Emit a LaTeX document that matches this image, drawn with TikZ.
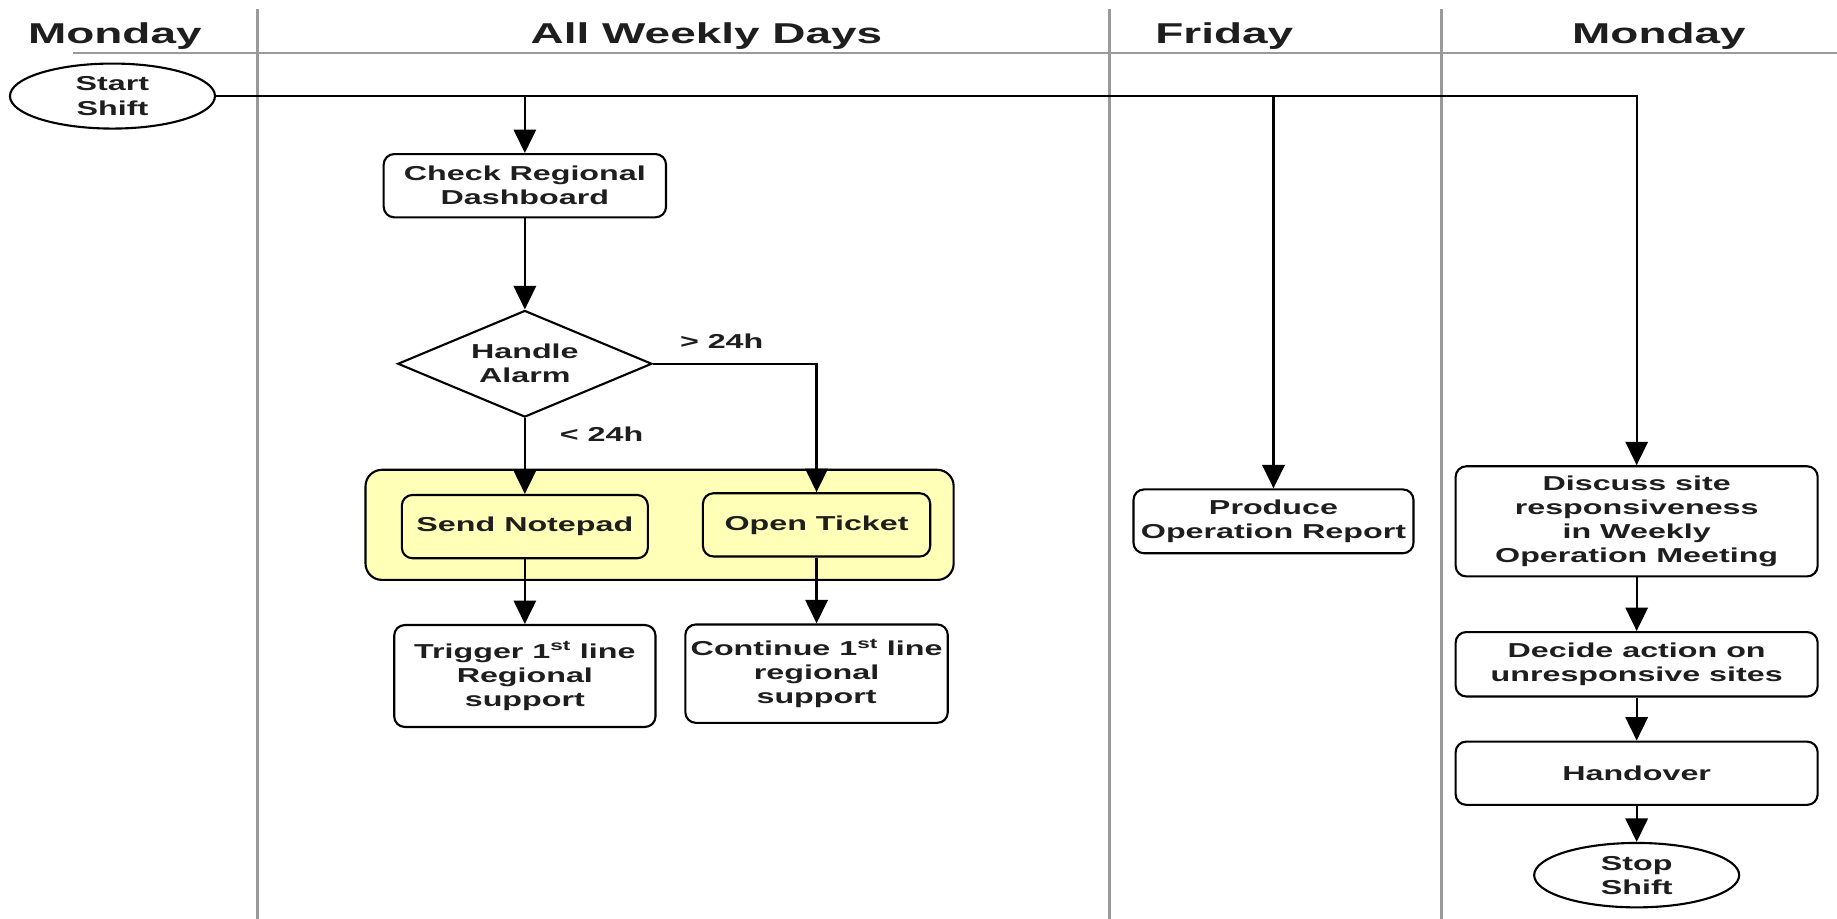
\documentclass[tikz,border=0pt]{standalone}
\usepackage{fontspec}
\setmainfont{Liberation Sans}[FakeStretch=1.6]
\usetikzlibrary{shapes.geometric,arrows.meta}
\definecolor{ink}{HTML}{1E1E1E}
\definecolor{lane}{HTML}{9A9A9A}
\definecolor{note}{HTML}{FFFFB8}
\newcommand{\boxfont}{\fontsize{17.2}{20.5}\selectfont\bfseries}
\newcommand{\hdrfont}{\fontsize{24.5}{28}\selectfont\bfseries}
\begin{document}
\begin{tikzpicture}[x=1pt,y=-1pt,
  lanerule/.style={draw=lane},
  hdr/.style={text=ink,font=\hdrfont,inner sep=0pt,anchor=base},
  proc/.style={draw=black,line width=1.8pt,rounded corners=9pt,fill=white,
    text=ink,align=center,inner sep=0pt,font=\boxfont},
  term/.style={ellipse,draw=black,line width=1.8pt,fill=white,text=ink,
    align=center,inner sep=0pt,font=\boxfont},
  decision/.style={diamond,draw=black,line width=1.8pt,fill=white,text=ink,
    align=center,inner sep=0pt,shape aspect=2.4,font=\boxfont},
  group/.style={draw=black,line width=1.8pt,rounded corners=14pt,fill=note,inner sep=0pt},
  tag/.style={text=ink,font=\boxfont,inner sep=0pt},
  flow/.style={draw=black,line width=2pt,-{Triangle[width=19pt,length=20pt]}}]

\useasboundingbox[fill=white] (0,0) rectangle (1568,784);

% swimlane rules
\draw[lanerule,line width=1.7pt] (62,45) -- (1568,45);
\foreach \lx in {220,947,1230.5}
  \draw[lanerule,line width=2.6pt] (\lx,8) -- (\lx,784);

% lane headings
\node[hdr] (hMon)  at (98,37)   {Monday};
\node[hdr] (hAll)  at (603,37)  {All Weekly Days};
\node[hdr] (hFri)  at (1045,37) {Friday};
\node[hdr] (hMon2) at (1416,37) {Monday};

% start
\node[term,minimum width=175pt,minimum height=55.5pt] (start) at (96,82) {Start\\Shift};

% daily work
\node[proc,minimum width=241pt,minimum height=54pt] (check) at (448,158.5) {Check Regional\\Dashboard};
\node[decision,minimum width=217pt,minimum height=91pt] (alarm) at (448,310.5) {Handle\\Alarm};
\node[group,minimum width=502pt,minimum height=94pt] (grp) at (563,448) {};
\node[proc,fill=note,minimum width=210pt,minimum height=54pt] (notepad) at (448,449.5) {Send Notepad};
\node[proc,fill=note,minimum width=194pt,minimum height=54pt] (ticket) at (697,448) {Open Ticket};
\node[proc,minimum width=223pt,minimum height=87pt] (trigger) at (448,577) {Trigger 1\textsuperscript{st} line\\Regional\\support};
\node[proc,minimum width=224pt,minimum height=84pt] (cont) at (697,575) {Continue 1\textsuperscript{st} line\\regional\\support};
\node[tag] (gt) at (616,291.5) {> 24h};
\node[tag] (lt) at (513.5,371) {< 24h};

% friday
\node[proc,minimum width=239pt,minimum height=54.5pt] (report) at (1087,445) {Produce\\Operation Report};

% monday
\node[proc,minimum width=309pt,minimum height=94pt] (discuss) at (1397,445) {Discuss site\\responsiveness\\in Weekly\\Operation Meeting};
\node[proc,minimum width=309pt,minimum height=55pt] (decide) at (1397,567) {Decide action on\\unresponsive sites};
\node[proc,minimum width=309pt,minimum height=54pt] (handover) at (1397,660) {Handover};
\node[term,minimum width=175pt,minimum height=55pt] (stop) at (1397,747) {Stop\\Shift};

% connectors
\draw[flow] (start.east) -| (check.north);
\draw[flow] (start.east) -| (report.north);
\draw[flow] (start.east) -| (discuss.north);
\draw[flow] (check.south) -- (alarm.north);
\draw[flow] (alarm.south) -- (notepad.north);
\draw[flow] (alarm.east) -| (ticket.north);
\draw[flow] (notepad.south) -- (trigger.north);
\draw[flow] (ticket.south) -- (cont.north);
\draw[flow] (discuss.south) -- (decide.north);
\draw[flow] (decide.south) -- (handover.north);
\draw[flow] (handover.south) -- (stop.north);
\end{tikzpicture}
\end{document}
